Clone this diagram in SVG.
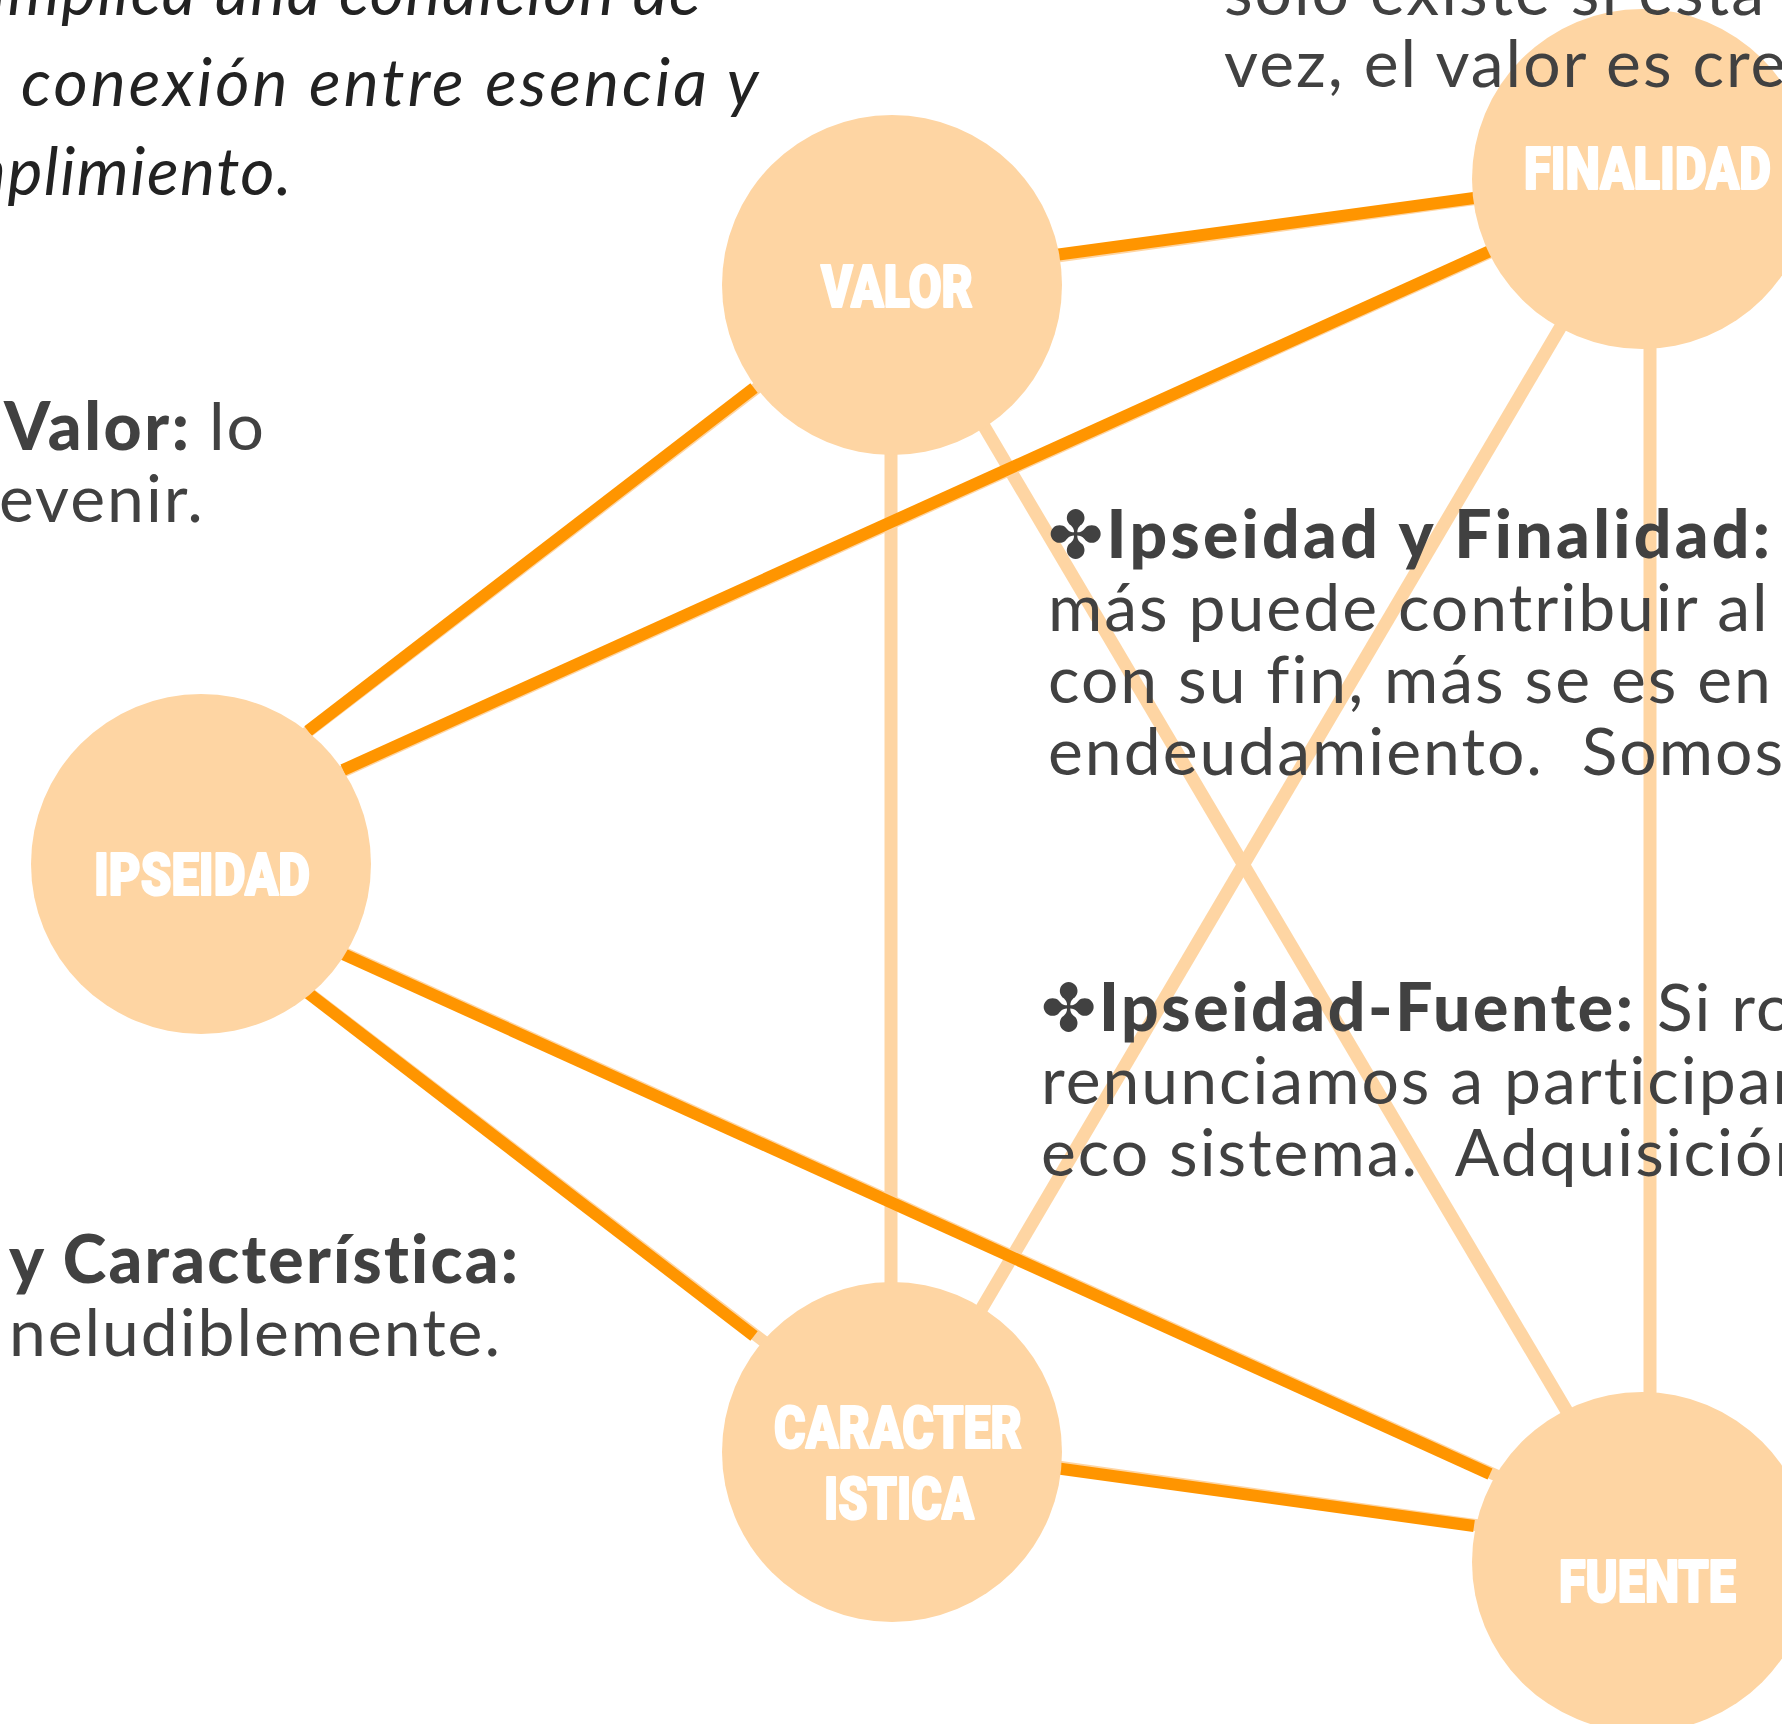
<svg xmlns="http://www.w3.org/2000/svg" width="1782" height="1724" viewBox="0 0 1782 1724">
<style>
.bg{fill:#ffffff}
.node{fill:#FED5A3}
.lbl{font-family:Roboto,"Liberation Sans",sans-serif;font-weight:900;font-size:60px;fill:#ffffff;stroke:#ffffff;stroke-width:2.2px;stroke-linejoin:round}
.or{stroke:#FF9500;stroke-width:12;fill:none}
.ul{stroke:#FED5A3;stroke-width:12;fill:none}
.pe{stroke:#FED5A3;stroke-width:13;fill:none}
.t{font-family:Lato,"Liberation Sans",sans-serif;font-size:66px;fill:#414141;letter-spacing:2px}
.b{font-weight:900;letter-spacing:1px}
.it{font-family:Lato,"Liberation Sans",sans-serif;font-size:66px;font-style:italic;fill:#222222;letter-spacing:1.5px}
.sym{font-family:"DejaVu Sans",sans-serif}
</style>
<rect class="bg" x="0" y="0" width="1782" height="1724"/>
<g id="connectors">
  <line class="pe" x1="891" y1="440" x2="891" y2="1300"/>
  <line class="pe" x1="1650" y1="330" x2="1650" y2="1410"/>
  <line class="pe" x1="975" y1="411" x2="1575" y2="1425"/>
  <line class="pe" x1="1570" y1="311" x2="972" y2="1325"/>
  <line class="ul" x1="1043" y1="258.5" x2="1486" y2="197.5"/>
  <line class="ul" x1="332" y1="776.5" x2="1501" y2="247.5"/>
  <line class="ul" x1="298" y1="739.5" x2="764" y2="382.5"/>
  <line class="ul" x1="298" y1="984.5" x2="764" y2="1341.5"/>
  <line class="ul" x1="332" y1="947.5" x2="1501" y2="1477.5"/>
  <line class="ul" x1="1043" y1="1464.5" x2="1486" y2="1526.5"/>
  <line class="or" x1="1055" y1="255" x2="1474" y2="198"/>
  <line class="or" x1="343" y1="770" x2="1490" y2="251"/>
  <line class="or" x1="308" y1="731" x2="754" y2="388"/>
  <line class="or" x1="308" y1="993" x2="754" y2="1336"/>
  <line class="or" x1="343" y1="954" x2="1490" y2="1474"/>
  <line class="or" x1="1055" y1="1468" x2="1474" y2="1526"/>
</g>
<g id="node-valor">
  <circle class="node" cx="892" cy="285" r="170"/>
  <text class="lbl" x="821" y="307" textLength="152" lengthAdjust="spacingAndGlyphs">VALOR</text>
</g>
<g id="node-finalidad">
  <circle class="node" cx="1642" cy="179" r="170"/>
  <text class="lbl" x="1524" y="189" textLength="247" lengthAdjust="spacingAndGlyphs">FINALIDAD</text>
</g>
<g id="node-ipseidad">
  <circle class="node" cx="201" cy="864" r="170"/>
  <text class="lbl" x="94" y="895" textLength="216" lengthAdjust="spacingAndGlyphs">IPSEIDAD</text>
</g>
<g id="node-caracteristica">
  <circle class="node" cx="892" cy="1452" r="170"/>
  <text class="lbl" x="774" y="1448" textLength="248" lengthAdjust="spacingAndGlyphs">CARACTER</text>
  <text class="lbl" x="824" y="1519" textLength="150" lengthAdjust="spacingAndGlyphs">ISTICA</text>
</g>
<g id="node-fuente">
  <circle class="node" cx="1642" cy="1562" r="170"/>
  <text class="lbl" x="1559" y="1602" textLength="177" lengthAdjust="spacingAndGlyphs">FUENTE</text>
</g>
<g id="texts">
  <text class="it" x="702" y="15" text-anchor="end">implica una condición de</text>
  <text class="it" x="21" y="106" textLength="739">conexión entre esencia y</text>
  <text class="it" x="293" y="195" text-anchor="end">cumplimiento.</text>

  <text class="t" x="1224" y="15">solo existe si esta e</text>
  <text class="t" x="1224" y="87">vez, el valor es crea</text>

  <text class="t b" x="4" y="450" textLength="186">Valor:</text>
  <text class="t" x="209" y="450">lo</text>
  <text class="t" x="-1" y="522">evenir.</text>

  <text class="t b" x="9" y="1283" textLength="510">y Característica:</text>
  <text class="t" x="9" y="1356" textLength="493">neludiblemente.</text>

  <text class="t b" x="1048" y="558" textLength="723"><tspan class="sym">✤</tspan>Ipseidad y Finalidad:</text>
  <text class="t" x="1048" y="631">más puede contribuir al</text>
  <text class="t" x="1048" y="703">con su fin, más se es en s</text>
  <text class="t" x="1048" y="775" xml:space="preserve">endeudamiento.  Somos</text>

  <text class="t b" x="1041" y="1031" textLength="593"><tspan class="sym">✤</tspan>Ipseidad-Fuente:</text>
  <text class="t" x="1657" y="1031">Si ro</text>
  <text class="t" x="1041" y="1104">renunciamos a participar</text>
  <text class="t" x="1041" y="1176" xml:space="preserve">eco sistema.  Adquisición</text>
</g>
</svg>
